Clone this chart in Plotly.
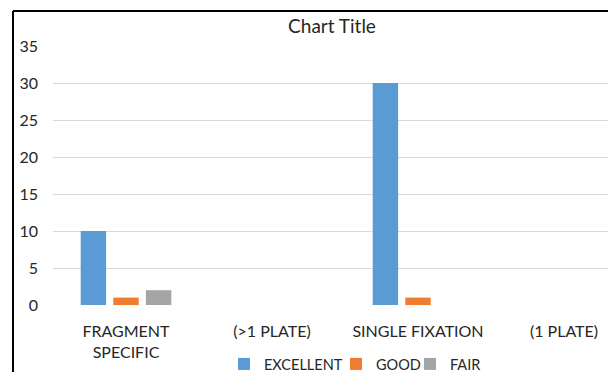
import plotly.graph_objects as go

categories = ["FRAGMENT<br>SPECIFIC", "(>1 PLATE)", "SINGLE FIXATION", "(1 PLATE)"]
series_names = ["EXCELLENT", "GOOD", "FAIR"]
excellent = [10, 0, 30, 0]
good = [1, 0, 1, 0]
fair = [2, 0, 0, 0]
y_ticks = [0, 5, 10, 15, 20, 25, 30, 35]

colors = ["#5B9BD5", "#ED7D31", "#A5A5A5"]
legend_ids = ["legend", "legend2", "legend3"]
legend_x = [224, 336, 410]
FONT = "Lato"
TXT = "#262626"

W, H = 608, 372
L, R, T, B = 53, 0, 46, 67
pw, ph = W - L - R, H - T - B

fig = go.Figure()
for name, vals, c, lid in zip(series_names, [excellent, good, fair], colors, legend_ids):
    fig.add_trace(go.Bar(name=name, x=categories, y=vals, legend=lid,
                         marker=dict(color=c, line=dict(width=0))))

layout_legends = {}
for lid, lx in zip(legend_ids, legend_x):
    layout_legends[lid] = dict(orientation="h", x=lx / W, xref="container", xanchor="left",
                               y=1 - 364 / H, yref="container", yanchor="middle",
                               font=dict(family=FONT, size=14.5, color=TXT),
                               itemwidth=30, bgcolor="rgba(0,0,0,0)")

fig.update_layout(
    width=W, height=H,
    margin=dict(l=L, r=R, t=T, b=B, autoexpand=False),
    paper_bgcolor="white", plot_bgcolor="white",
    barmode="group", bargap=0.33, bargroupgap=0.22,
    font=dict(family=FONT, size=16, color=TXT),
    title=dict(text="Chart Title", x=332 / W, xref="container", xanchor="center",
               y=1 - 26 / H, yref="container", yanchor="middle",
               font=dict(family=FONT, size=19, color=TXT)),
    showlegend=True,
    xaxis=dict(range=[-0.5, -0.5 + pw / 146.0], showgrid=False, zeroline=False,
               showline=False, ticks="", ticklabelstandoff=15,
               tickfont=dict(family=FONT, size=16, color=TXT)),
    yaxis=dict(range=[0, 35], tickvals=y_ticks, showgrid=True, gridcolor="#D9D9D9",
               gridwidth=1.3, zeroline=False, showline=False, ticks="",
               ticklabelstandoff=14, tickfont=dict(family=FONT, size=16, color=TXT)),
    **layout_legends,
)

# outer frame of the cropped chart area (left and top edges)
fx = (13 - L) / pw
fy = (H - B - 11) / ph
fig.add_shape(type="line", xref="paper", yref="paper", x0=fx, x1=fx, y0=fy, y1=-0.4,
              line=dict(color="black", width=2))
fig.add_shape(type="line", xref="paper", yref="paper", x0=fx, x1=1.2, y0=fy, y1=fy,
              line=dict(color="black", width=2))

fig.write_html("out.html")
